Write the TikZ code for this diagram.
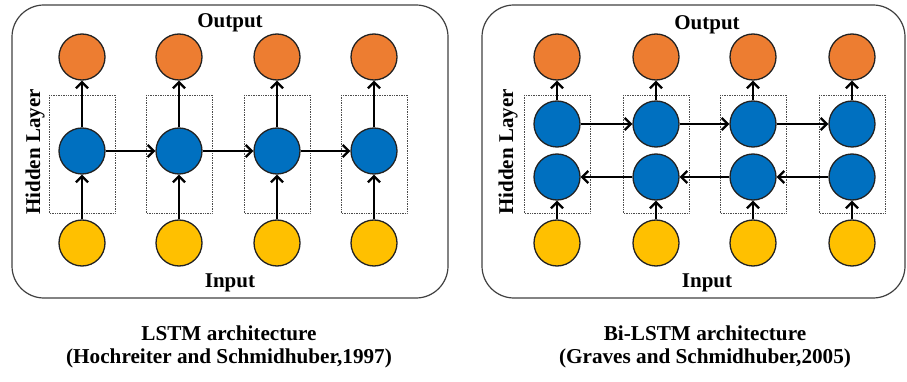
\documentclass[tikz,border=0pt]{standalone}
\usepackage{fontspec}
\setmainfont{Liberation Serif}
\usetikzlibrary{arrows.meta}
\definecolor{outc}{HTML}{ED7D31}
\definecolor{hidc}{HTML}{0070C0}
\definecolor{inc}{HTML}{FFC000}
\definecolor{edgec}{HTML}{222222}
\begin{document}
\begin{tikzpicture}[x=1pt,y=-1pt,
  neuron/.style={circle,draw=edgec,line width=1.3pt,minimum size=46pt,inner sep=0pt},
  outn/.style={neuron,fill=outc},
  hidn/.style={neuron,fill=hidc},
  inn/.style={neuron,fill=inc},
  frame/.style={draw=black!75,line width=1.2pt,rounded corners=32pt},
  cellbox/.style={draw=black!70,densely dotted,line width=0.7pt},
  conn/.style={line width=2.3pt,-{Straight Barb[length=6pt,width=12pt,line width=2.3pt]}},
  lbl/.style={font=\bfseries\fontsize{21}{23}\selectfont,inner sep=0pt},
  captext/.style={font=\bfseries\fontsize{21.2}{22.5}\selectfont,align=center,inner sep=0pt}]
\useasboundingbox (0,0) rectangle (907,382);
% ---------- left panel ----------
\draw[frame] (12,5) rectangle (448,298);
\foreach \i/\x in {1/82,2/179,3/277,4/374}{
  \draw[cellbox] (\x-33,95) rectangle (\x+33,213);
  \node[outn] (lo\i) at (\x,57) {};
  \node[hidn] (lh\i) at (\x,151) {};
  \node[inn] (li\i) at (\x,243) {};
  \draw[conn] (li\i) -- (lh\i);
  \draw[conn] (lh\i) -- (lo\i);
}
\foreach \a/\b in {1/2,2/3,3/4}{\draw[conn] (lh\a) -- (lh\b);}
\node[lbl] (lout) at (230,23) {Output};
\node[lbl] (linp) at (230,283) {Input};
\node[lbl,rotate=90] (lhid) at (35,152) {Hidden Layer};
% ---------- right panel ----------
\draw[frame] (482,5) rectangle (905,298);
\foreach \i/\x in {1/557,2/656,3/753,4/852}{
  \draw[cellbox] (\x-33,95) rectangle (\x+33,213);
  \node[outn] (ro\i) at (\x,57) {};
  \node[hidn] (rf\i) at (\x,124) {};
  \node[hidn] (rb\i) at (\x,177) {};
  \node[inn] (ri\i) at (\x,243) {};
  \draw[conn] (ri\i) -- (rb\i);
  \draw[conn] (rf\i) -- (ro\i);
}
\foreach \a/\b in {1/2,2/3,3/4}{
  \draw[conn] (rf\a) -- (rf\b);
  \draw[conn] (rb\b) -- (rb\a);
}
\node[lbl] (rout) at (707,25) {Output};
\node[lbl] (rinp) at (707,283) {Input};
\node[lbl,rotate=90] (rhid) at (508,152) {Hidden Layer};
% ---------- captions ----------
\node[captext] (lcap) at (229,347) {LSTM architecture\\(Hochreiter and Schmidhuber,1997)};
\node[captext] (rcap) at (705,347) {Bi-LSTM architecture\\(Graves and Schmidhuber,2005)};
\end{tikzpicture}
\end{document}
